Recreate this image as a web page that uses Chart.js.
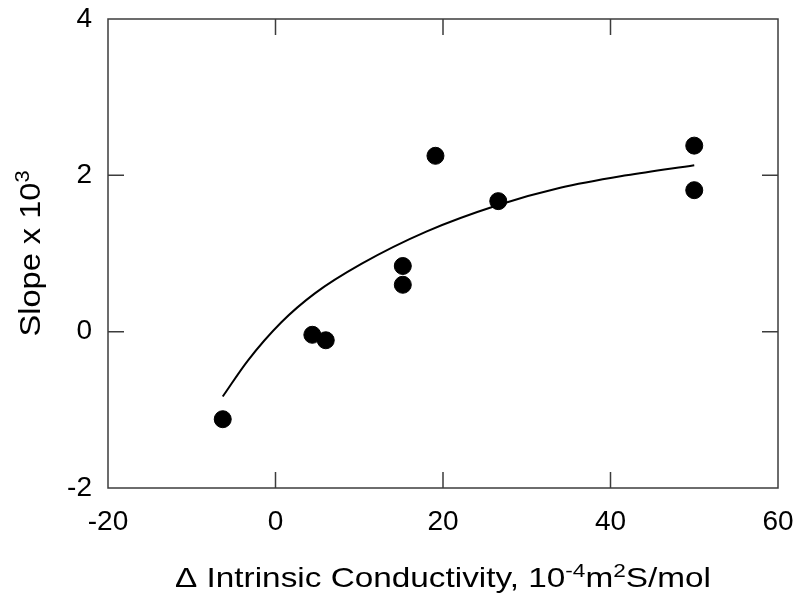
<!DOCTYPE html>
<html>
<head>
<meta charset="utf-8">
<script src="https://cdn.jsdelivr.net/npm/chart.js@4.4.1/dist/chart.umd.min.js"></script>
<style>
  html, body { margin: 0; padding: 0; background: #fff; }
  #wrap { width: 800px; height: 599px; }
</style>
</head>
<body>
<div id="wrap"><canvas id="c"></canvas></div>
<script>
// measured points
const pointX = [-6.3, 4.4, 6.0, 15.2, 15.2, 19.1, 26.6, 50.0, 50.0];
const pointY = [-1.12, -0.04, -0.11, 0.84, 0.60, 2.25, 1.67, 2.38, 1.81];

// fitted curve
const curveX = [-6.3, -3.3, 0.7, 4.7, 10.3, 18.0, 26.6, 34.0, 41.9, 50.0];
const curveY = [-0.83, -0.37, 0.12, 0.49, 0.87, 1.28, 1.62, 1.84, 2.00, 2.13];

const xTicks = [-20, 0, 20, 40, 60];
const yTicks = [-2, 0, 2, 4];

const FONT = '"Liberation Sans", Arial, Helvetica, sans-serif';
const frameColor = '#3c3c3c';

const toXY = (xs, ys) => xs.map((x, i) => ({ x, y: ys[i] }));

// frame + inward ticks on all four sides
const framePlugin = {
  id: 'frame',
  afterDraw(chart) {
    const { ctx, chartArea: a, scales } = chart;
    ctx.save();
    ctx.strokeStyle = frameColor;
    ctx.lineWidth = 1.5;
    ctx.strokeRect(a.left, a.top, a.right - a.left, a.bottom - a.top);
    const len = 16;
    ctx.beginPath();
    xTicks.slice(1, -1).forEach(v => {
      const px = scales.x.getPixelForValue(v);
      ctx.moveTo(px, a.bottom); ctx.lineTo(px, a.bottom - len);
      ctx.moveTo(px, a.top); ctx.lineTo(px, a.top + len);
    });
    yTicks.slice(1, -1).forEach(v => {
      const py = scales.y.getPixelForValue(v);
      ctx.moveTo(a.left, py); ctx.lineTo(a.left + len, py);
      ctx.moveTo(a.right, py); ctx.lineTo(a.right - len, py);
    });
    ctx.stroke();
    ctx.restore();
  }
};

// axis titles with superscripts; optional target width stretches along the text
function richText(ctx, parts, x, y, size, targetW) {
  const main = size + 'px ' + FONT, sup = Math.round(size * 0.68) + 'px ' + FONT;
  let w = 0;
  parts.forEach(p => { ctx.font = p[1] ? sup : main; w += ctx.measureText(p[0]).width; });
  const sx = targetW ? targetW / w : 1;
  ctx.save();
  ctx.translate(x - w * sx / 2, y);
  ctx.scale(sx, 1);
  let cx = 0;
  parts.forEach(p => {
    ctx.font = p[1] ? sup : main;
    ctx.fillText(p[0], cx, p[1] ? -Math.round(size * 0.36) : 0);
    cx += ctx.measureText(p[0]).width;
  });
  ctx.restore();
}

const titlePlugin = {
  id: 'titles',
  afterDraw(chart) {
    const { ctx, chartArea: a } = chart;
    ctx.save();
    ctx.fillStyle = '#000';
    ctx.textBaseline = 'alphabetic';
    ctx.textAlign = 'left';
    richText(ctx, [['\u0394 Intrinsic Conductivity, 10', 0], ['-4', 1], ['m', 0], ['2', 1], ['S/mol', 0]],
      (a.left + a.right) / 2, 587, 28, 536);
    ctx.translate(40, (a.top + a.bottom) / 2);
    ctx.rotate(-Math.PI / 2);
    richText(ctx, [['Slope x 10', 0], ['3', 1]], 0, 0, 30, 166);
    ctx.restore();
  }
};

new Chart(document.getElementById('c'), {
  type: 'scatter',
  data: {
    datasets: [
      {
        label: 'fit',
        data: toXY(curveX, curveY),
        showLine: true,
        borderColor: '#000',
        borderWidth: 2,
        pointRadius: 0,
        cubicInterpolationMode: 'monotone',
        fill: false
      },
      {
        label: 'data',
        data: toXY(pointX, pointY),
        backgroundColor: '#000',
        borderColor: '#000',
        pointRadius: 8.5,
        pointHoverRadius: 8.5
      }
    ]
  },
  options: {
    responsive: true,
    maintainAspectRatio: false,
    animation: false,
    layout: { padding: { top: 19, right: 22, left: 0, bottom: 0 } },
    plugins: { legend: { display: false }, tooltip: { enabled: false } },
    scales: {
      x: {
        type: 'linear',
        min: -20, max: 60,
        afterBuildTicks: s => { s.ticks = xTicks.map(v => ({ value: v })); },
        afterFit: s => { s.height = 111; s.paddingLeft = 0; s.paddingRight = 0; },
        grid: { display: false, drawTicks: false },
        border: { display: false },
        ticks: { color: '#000', font: { size: 28, family: FONT }, padding: 17, maxRotation: 0 }
      },
      y: {
        type: 'linear',
        min: -2, max: 4,
        afterBuildTicks: s => { s.ticks = yTicks.map(v => ({ value: v })); },
        afterFit: s => { s.width = 108; s.paddingTop = 0; s.paddingBottom = 0; },
        grid: { display: false, drawTicks: false },
        border: { display: false },
        ticks: { color: '#000', font: { size: 28, family: FONT }, padding: 16 }
      }
    }
  },
  plugins: [framePlugin, titlePlugin]
});
</script>
</body>
</html>
